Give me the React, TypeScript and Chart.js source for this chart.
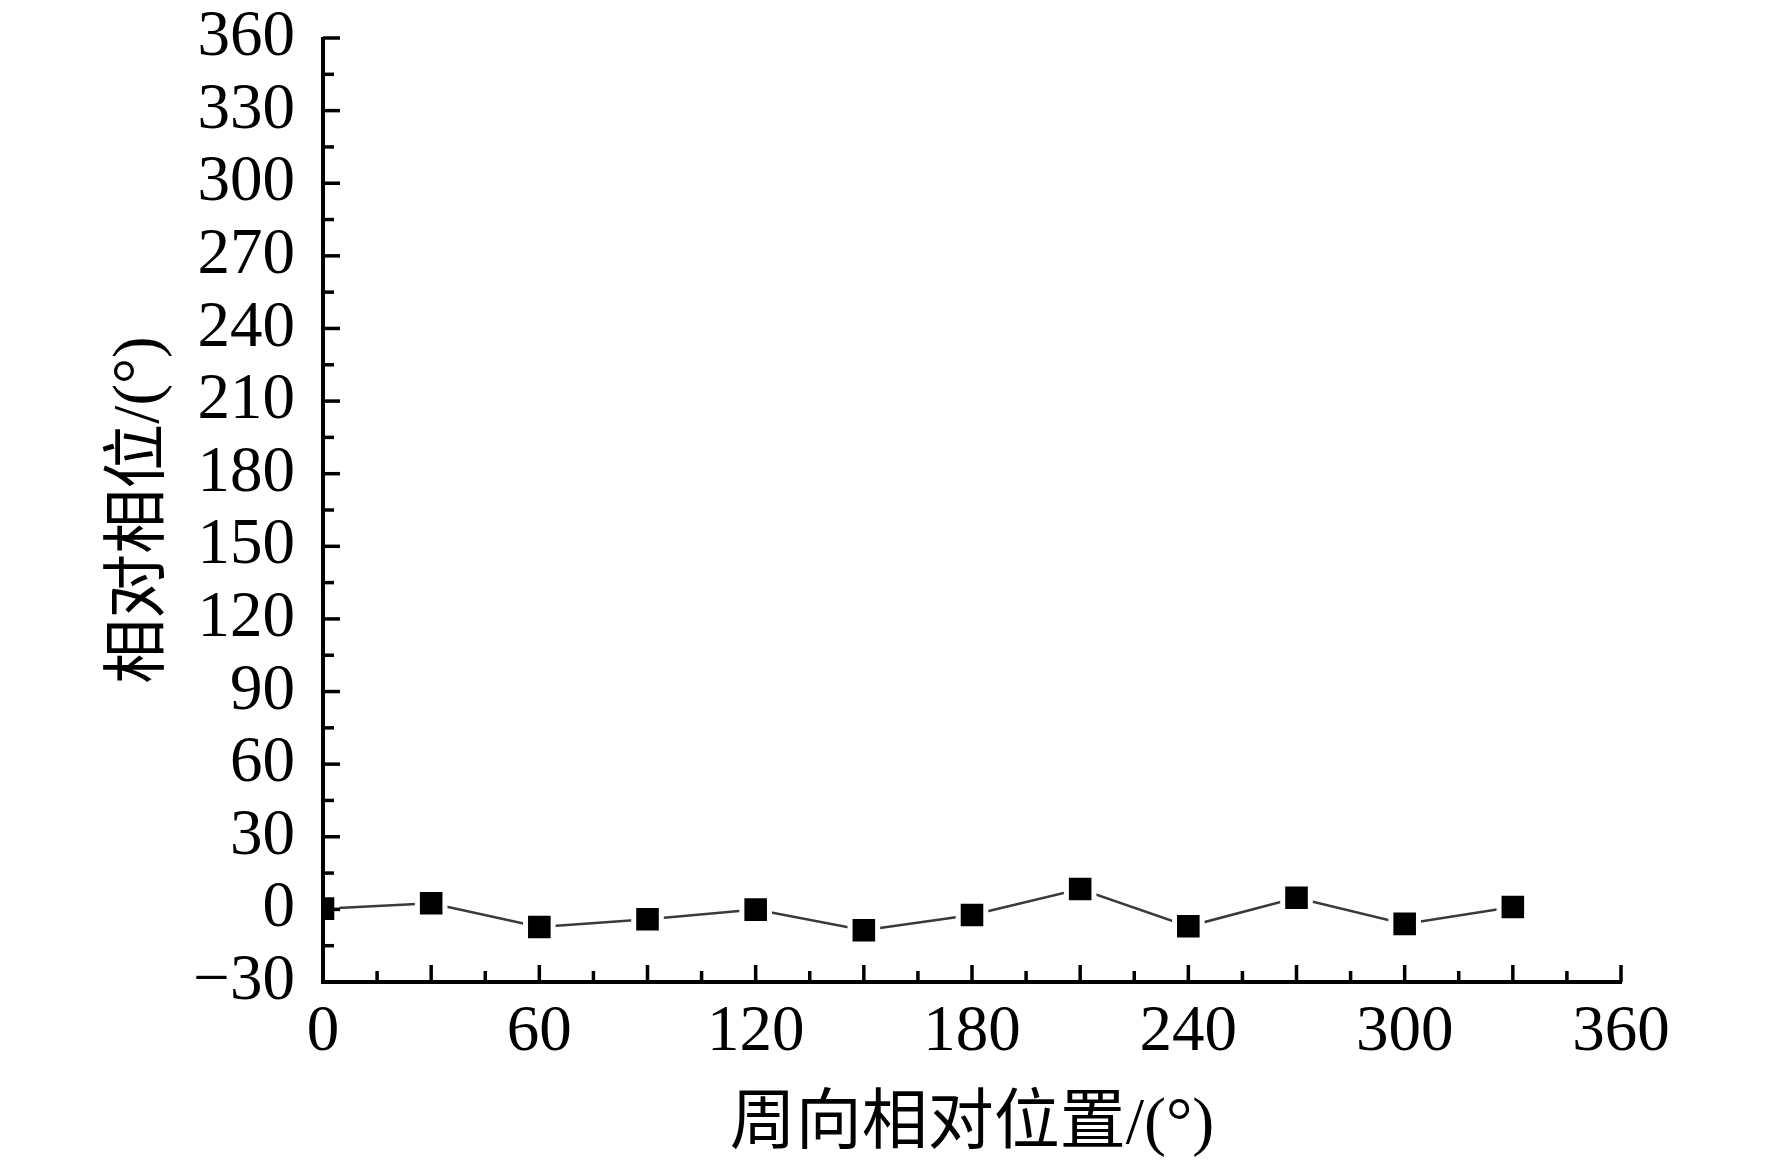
import React, { useEffect, useRef } from "react";
import { Chart, registerables } from "chart.js";

Chart.register(...registerables);

// ---- data ----
const positions = [0, 30, 60, 90, 120, 150, 180, 210, 240, 270, 300, 330];
const phases = [0.3, 2.5, -7.3, -4.1, -0.1, -8.6, -2.3, 8.4, -7.0, 4.8, -6.0, 1.0];

const xLabelTicks = [0, 60, 120, 180, 240, 300, 360];
const xMajorTicks = [0, 30, 60, 90, 120, 150, 180, 210, 240, 270, 300, 330, 360];
const xMinorTicks = [15, 45, 75, 105, 135, 165, 195, 225, 255, 285, 315, 345];
const yLabelTicks = [-30, 0, 30, 60, 90, 120, 150, 180, 210, 240, 270, 300, 330, 360];
const yMinorTicks = [-15, 15, 45, 75, 105, 135, 165, 195, 225, 255, 285, 315, 345];

const xTitle = "周向相对位置/(°)";
const yTitle = "相对相位/(°)";

const W = 1772;
const H = 1161;

const serif = "'Liberation Serif', 'Times New Roman', 'Noto Sans CJK SC', serif";

const axesPlugin = {
  id: "customAxes",
  afterDatasetsDraw(chart: any) {
    const { ctx, chartArea, scales } = chart;
    const { left, right, top, bottom } = chartArea;
    const x = scales.x;
    const y = scales.y;
    ctx.save();
    ctx.strokeStyle = "#000";
    ctx.lineCap = "butt";
    ctx.lineWidth = 3.5;
    const seg = (x1: number, y1: number, x2: number, y2: number) => {
      ctx.beginPath();
      ctx.moveTo(x1, y1);
      ctx.lineTo(x2, y2);
      ctx.stroke();
    };
    xMajorTicks.forEach((v) => {
      const p = x.getPixelForValue(v);
      seg(p, bottom, p, bottom - 17);
    });
    xMinorTicks.forEach((v) => {
      const p = x.getPixelForValue(v);
      seg(p, bottom, p, bottom - 11);
    });
    yLabelTicks.forEach((v) => {
      const p = y.getPixelForValue(v);
      seg(left, p, left + 17, p);
    });
    yMinorTicks.forEach((v) => {
      const p = y.getPixelForValue(v);
      seg(left, p, left + 11, p);
    });
    ctx.lineWidth = 4;
    ctx.lineJoin = "miter";
    ctx.beginPath();
    ctx.moveTo(left, top - 1);
    ctx.lineTo(left, bottom);
    ctx.lineTo(right + 1, bottom);
    ctx.stroke();
    ctx.restore();
  },
};

export default function App() {
  const ref = useRef<HTMLCanvasElement | null>(null);

  useEffect(() => {
    if (!ref.current) return;
    const chart = new Chart(ref.current, {
      type: "line",
      data: {
        datasets: [
          {
            data: positions.map((p, i) => ({ x: p, y: phases[i] })),
            borderColor: "#3a3a3a",
            borderWidth: 2.5,
            pointStyle: "rect",
            pointRadius: 19.5,
            pointBackgroundColor: "#000",
            pointBorderColor: "#fff",
            pointBorderWidth: 5,
            tension: 0,
          },
        ],
      },
      options: {
        animation: false,
        responsive: false,
        maintainAspectRatio: false,
        devicePixelRatio: 1,
        events: [],
        layout: { padding: { left: 0, top: 38, right: W - 1621, bottom: 0 } },
        plugins: { legend: { display: false }, tooltip: { enabled: false } },
        scales: {
          x: {
            type: "linear",
            min: 0,
            max: 360,
            grid: { display: false, drawTicks: false },
            border: { display: false },
            afterBuildTicks: (s: any) => {
              s.ticks = xLabelTicks.map((v) => ({ value: v }));
            },
            afterFit: (s: any) => {
              s.height = H - 982;
              s.paddingLeft = 0;
              s.paddingRight = 0;
            },
            ticks: {
              color: "#000",
              padding: 18,
              maxRotation: 0,
              autoSkip: false,
              font: { family: serif, size: 65, lineHeight: 1 },
            },
            title: {
              display: true,
              text: xTitle,
              color: "#000",
              padding: { top: 0, bottom: 2 },
              font: { family: serif, size: 66, lineHeight: 1 },
            },
          },
          y: {
            type: "linear",
            min: -30,
            max: 360,
            grid: { display: false, drawTicks: false },
            border: { display: false },
            afterBuildTicks: (s: any) => {
              s.ticks = yLabelTicks.map((v) => ({ value: v }));
            },
            afterFit: (s: any) => {
              s.width = 323;
              s.paddingTop = 0;
              s.paddingBottom = 0;
            },
            ticks: {
              color: "#000",
              padding: 28,
              autoSkip: false,
              font: { family: serif, size: 65, lineHeight: 1 },
              callback: (v: any) => String(v).replace("-", "\u2212"),
            },
            title: {
              display: true,
              text: yTitle,
              color: "#000",
              padding: { top: 108, bottom: 0 },
              font: { family: serif, size: 65, lineHeight: 1 },
            },
          },
        },
      },
      plugins: [axesPlugin],
    });
    return () => chart.destroy();
  }, []);

  return (
    <div
      style={{
        position: "fixed",
        left: 0,
        top: 0,
        width: W,
        height: H,
        background: "#fff",
      }}
    >
      <canvas ref={ref} width={W} height={H} style={{ display: "block", width: W, height: H }} />
    </div>
  );
}
